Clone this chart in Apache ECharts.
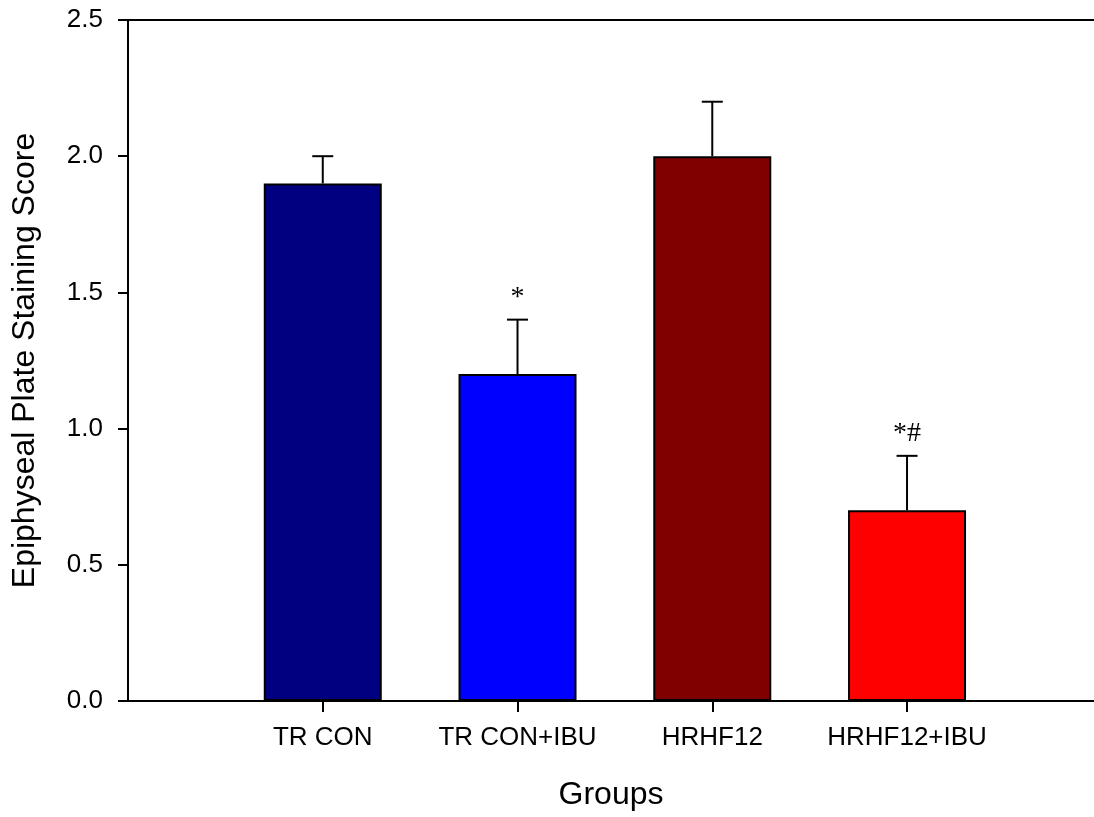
<!DOCTYPE html>
<html>
<head>
<meta charset="utf-8">
<script src="https://cdn.jsdelivr.net/npm/echarts@6/dist/echarts.min.js"></script>
<style>
  html, body { margin: 0; padding: 0; background: #fff; }
  #chart { width: 1094px; height: 817px; }
</style>
</head>
<body>
<div id="chart"></div>
<script>
// Group names, means, upper error bars and significance marks
const categories = ['TR CON', 'TR CON+IBU', 'HRHF12', 'HRHF12+IBU'];
const means = [1.9, 1.2, 2.0, 0.7];
const errors = [0.1, 0.2, 0.2, 0.2];
const marks = ['', '*', '', '*#'];
const barColors = ['#000080', '#0000FF', '#800000', '#FF0000'];
const yTicks = [0, 0.5, 1.0, 1.5, 2.0, 2.5];

const positions = categories.map((_, i) => i + 1);
const sansFont = 'Liberation Sans, Arial, sans-serif';

const chart = echarts.init(document.getElementById('chart'), null, { renderer: 'canvas' });

const barData = means.map((v, i) => ({
  value: [positions[i], v],
  itemStyle: { color: barColors[i] }
}));

const errData = means.map((v, i) => [positions[i], v, errors[i], i]);

chart.setOption({
  animation: false,
  backgroundColor: '#ffffff',
  grid: { left: 128, right: 0, top: 20, bottom: 116, containLabel: false },
  xAxis: [{
    type: 'value',
    min: 0,
    max: 4.96,
    interval: 1,
    name: 'Groups',
    nameLocation: 'middle',
    nameGap: 78,
    nameTextStyle: { fontFamily: sansFont, fontSize: 32, color: '#000' },
    axisLine: { show: true, onZero: false, lineStyle: { color: '#000', width: 2 } },
    axisTick: { show: true, length: 11, lineStyle: { color: '#000', width: 2 }, customValues: positions },
    axisLabel: {
      show: true, margin: 24, fontFamily: sansFont, fontSize: 26, color: '#000',
      customValues: positions,
      formatter: v => categories[Math.round(v) - 1] || ''
    },
    splitLine: { show: false }
  }, {
    // top frame line
    type: 'value', position: 'top', min: 0, max: 4.96,
    axisLine: { show: true, onZero: false, lineStyle: { color: '#000', width: 2 } },
    axisTick: { show: false }, axisLabel: { show: false }, splitLine: { show: false }
  }],
  yAxis: {
    type: 'value',
    min: yTicks[0],
    max: yTicks[yTicks.length - 1],
    interval: 0.5,
    name: 'Epiphyseal Plate Staining Score',
    nameLocation: 'middle',
    nameGap: 87,
    nameTextStyle: { fontFamily: sansFont, fontSize: 32, color: '#000' },
    axisLine: { show: true, lineStyle: { color: '#000', width: 2 } },
    axisTick: { show: true, length: 10, lineStyle: { color: '#000', width: 2 } },
    axisLabel: { margin: 25, fontFamily: sansFont, fontSize: 26, color: '#000', formatter: v => v.toFixed(1) },
    splitLine: { show: false }
  },
  series: [{
    type: 'bar',
    data: barData,
    barWidth: 118,
    itemStyle: { borderColor: '#000', borderWidth: 2 },
    z: 2
  }, {
    type: 'custom',
    data: errData,
    z: 3,
    renderItem: (params, api) => {
      const x = api.value(0), m = api.value(1), e = api.value(2), idx = api.value(3);
      const base = api.coord([x, m]);
      const top = api.coord([x, m + e]);
      const half = 10.5;
      const children = [
        { type: 'line', shape: { x1: base[0], y1: base[1], x2: top[0], y2: top[1] },
          style: { stroke: '#000', lineWidth: 2 } },
        { type: 'line', shape: { x1: top[0] - half, y1: top[1], x2: top[0] + half, y2: top[1] },
          style: { stroke: '#000', lineWidth: 2 } }
      ];
      const label = marks[idx];
      if (label) {
        children.push({
          type: 'text',
          style: {
            x: top[0], y: top[1] - 8, text: label,
            fill: '#000', font: '28px "Liberation Serif", "Times New Roman", serif',
            align: 'center', verticalAlign: 'bottom'
          }
        });
      }
      return { type: 'group', children };
    }
  }]
});
</script>
</body>
</html>
